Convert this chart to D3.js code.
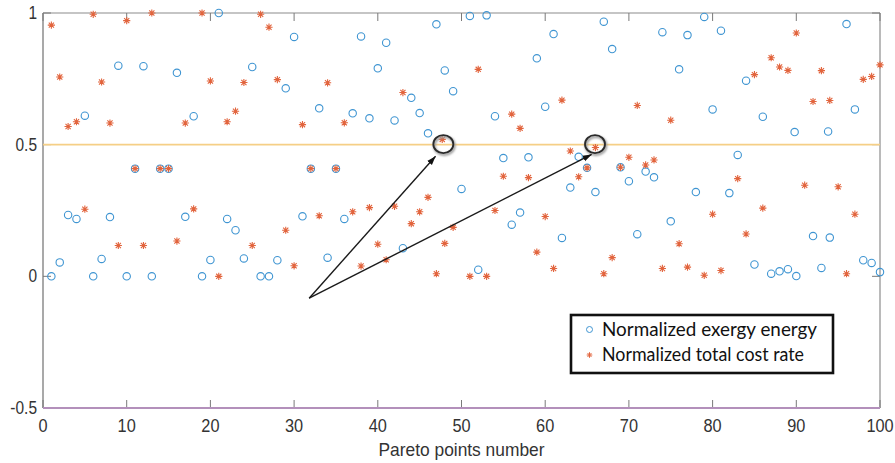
<!DOCTYPE html>
<html><head><meta charset="utf-8">
<script src="https://cdn.jsdelivr.net/npm/d3@7/dist/d3.min.js"></script>
<style>html,body{margin:0;padding:0;background:#fff;} svg{display:block;}</style>
</head><body>
<svg id="chart" width="895" height="463"></svg>
<script>
// ---------- data ----------
const pointNumbers = d3.range(1, 101);
const exergyValues = [
  0, 0.053, 0.233, 0.218, 0.61, 0, 0.066, 0.225, 0.8, 0,
  0.409, 0.798, 0, 0.409, 0.409, 0.773, 0.226, 0.608, 0, 0.062,
  1.0, 0.218, 0.175, 0.068, 0.795, 0, 0, 0.061, 0.714, 0.909,
  0.228, 0.409, 0.638, 0.071, 0.409, 0.218, 0.619, 0.911, 0.6, 0.79,
  0.887, 0.592, 0.107, 0.678, 0.62, 0.543, 0.957, 0.782, 0.703, 0.332,
  0.989, 0.025, 0.991, 0.608, 0.449, 0.196, 0.242, 0.452, 0.828, 0.644,
  0.92, 0.146, 0.337, 0.454, 0.412, 0.32, 0.967, 0.863, 0.414, 0.361,
  0.16, 0.398, 0.376, 0.927, 0.209, 0.786, 0.916, 0.32, 0.985, 0.634,
  0.933, 0.316, 0.461, 0.743, 0.045, 0.606, 0.01, 0.019, 0.027, 0.001,
  0.548, 0.153, 0.032, 0.147, 0.55, 0.958, 0.634, 0.061, 0.051, 0.016
];
// two circles sit slightly left of their index in the picture
const exergyPositions = pointNumbers.map(n => n === 91 ? 89.8 : (n === 95 ? 93.8 : n));
const costValues = [
  0.954, 0.757, 0.569, 0.587, 0.255, 0.995, 0.738, 0.582, 0.117, 0.971,
  0.409, 0.117, 1.0, 0.409, 0.409, 0.134, 0.582, 0.256, 1.0, 0.742,
  0.0, 0.587, 0.627, 0.736, 0.117, 0.995, 0.946, 0.747, 0.175, 0.04,
  0.576, 0.409, 0.23, 0.735, 0.409, 0.583, 0.245, 0.039, 0.261, 0.122,
  0.063, 0.266, 0.698, 0.2, 0.245, 0.30, 0.01, 0.125, 0.186, null,
  0.0, 0.786, 0.0, 0.25, 0.38, 0.616, 0.562, 0.375, 0.092, 0.227,
  0.03, 0.669, 0.476, 0.378, 0.412, 0.489, 0.01, 0.071, 0.414, 0.452,
  0.649, 0.423, 0.442, 0.03, 0.593, 0.124, 0.035, null, 0.004, 0.236,
  0.022, null, 0.371, 0.161, 0.766, 0.259, 0.83, 0.795, 0.782, 0.924,
  0.346, 0.664, 0.781, 0.668, 0.34, 0.01, 0.236, 0.748, 0.759, 0.803
];
const extraCostX = [47.7];
const extraCostY = [0.52];
const circledX = [47.83, 65.95];
const circledY = [0.502, 0.502];
const arrowFromX = 31.8, arrowFromY = -0.083;
const arrowToX = [46.9, 65.55];
const arrowToY = [0.456, 0.463];
const referenceLevel = 0.5;
const xTicks = [0, 10, 20, 30, 40, 50, 60, 70, 80, 90, 100];
const yTicks = [-0.5, 0, 0.5, 1];
const yTickLabels = ["-0.5", "0", "0.5", "1"];
const seriesNames = ["Normalized exergy energy", "Normalized total cost rate"];
const xTitle = "Pareto points number";

// ---------- layout ----------
const L = 43, R = 880, T = 13, B = 408;
const blue = "#3f95d2", red = "#e2643d";
const svg = d3.select("#chart");
const x = d3.scaleLinear().domain([0, 100]).range([L, R]);
const y = d3.scaleLinear().domain([-0.5, 1]).range([B, T]);

const defs = svg.append("defs");
defs.append("marker").attr("id", "ah").attr("viewBox", "0 0 10 10")
  .attr("refX", 10).attr("refY", 5).attr("markerWidth", 9).attr("markerHeight", 9)
  .attr("markerUnits", "userSpaceOnUse").attr("orient", "auto")
  .append("path").attr("d", "M0,1.5 L10,5 L0,8.5 Z").attr("fill", "#111");
const blur = defs.append("filter").attr("id", "sh").attr("x", "-50%").attr("y", "-50%").attr("width", "200%").attr("height", "200%");
blur.append("feGaussianBlur").attr("stdDeviation", 1.2);

// frame
const tickFont = "'Liberation Sans', Arial, sans-serif";
svg.append("line").attr("x1", L).attr("x2", R).attr("y1", T).attr("y2", T).attr("stroke", "#8c8c8c").attr("stroke-width", 1.2);
svg.append("line").attr("x1", L).attr("x2", L).attr("y1", T).attr("y2", B).attr("stroke", "#8c8c8c").attr("stroke-width", 1.5);
svg.append("line").attr("x1", R).attr("x2", R).attr("y1", T).attr("y2", B).attr("stroke", "#8c8c8c").attr("stroke-width", 1.2);

// x ticks
const gx = svg.append("g");
xTicks.forEach(t => {
  gx.append("line").attr("x1", x(t)).attr("x2", x(t)).attr("y1", B).attr("y2", B - 8).attr("stroke", "#7a7a7a");
  gx.append("line").attr("x1", x(t)).attr("x2", x(t)).attr("y1", T).attr("y2", T + 8).attr("stroke", "#7a7a7a");
  gx.append("text").attr("transform", `translate(${x(t)},${B + 24}) scale(0.86,1)`)
    .attr("text-anchor", "middle").attr("font-family", tickFont).attr("font-size", 19)
    .attr("fill", "#333").text(t);
});
// y ticks
const gy = svg.append("g");
yTicks.forEach((t, i) => {
  gy.append("line").attr("x1", L).attr("x2", L + 8).attr("y1", y(t)).attr("y2", y(t)).attr("stroke", "#7a7a7a");
  gy.append("line").attr("x1", R).attr("x2", R - 8).attr("y1", y(t)).attr("y2", y(t)).attr("stroke", "#7a7a7a");
  gy.append("text").attr("transform", `translate(${L - 6},${y(t) + 6}) scale(0.86,1)`)
    .attr("text-anchor", "end").attr("font-family", tickFont).attr("font-size", 18)
    .attr("fill", "#333").text(yTickLabels[i]);
});
// bottom axis line (purple tone)
svg.append("line").attr("x1", L).attr("x2", R).attr("y1", B).attr("y2", B).attr("stroke", "#b390bb").attr("stroke-width", 2);

// x title
svg.append("text").attr("x", (L + R) / 2).attr("y", 456).attr("text-anchor", "middle")
  .attr("font-family", tickFont).attr("font-size", 18.5).attr("fill", "#333")
  .attr("textLength", 166).attr("lengthAdjust", "spacingAndGlyphs").text(xTitle);

// reference line
svg.append("line").attr("x1", L).attr("x2", R).attr("y1", y(referenceLevel)).attr("y2", y(referenceLevel))
  .attr("stroke", "#f5cf86").attr("stroke-width", 1.6);

function starPath(cx, cy, s) {
  const d = s * 0.72;
  return `M${cx - s},${cy}h${2 * s}M${cx},${cy - s}v${2 * s}` +
         `M${cx - d},${cy - d}l${2 * d},${2 * d}M${cx - d},${cy + d}l${2 * d},${-2 * d}`;
}

// exergy circles
svg.append("g").selectAll("circle").data(pointNumbers).join("circle")
  .attr("cx", (d, i) => x(exergyPositions[i])).attr("cy", (d, i) => y(exergyValues[i]))
  .attr("r", 3.7).attr("fill", "none").attr("stroke", blue).attr("stroke-width", 1.1);

// cost stars
const costPts = pointNumbers.map((n, i) => ({ n, v: costValues[i] })).filter(p => p.v !== null);
svg.append("g").selectAll("path").data(costPts).join("path")
  .attr("d", p => starPath(x(p.n), y(p.v), 3.6)).attr("stroke", red).attr("stroke-width", 1.1).attr("fill", "none");
svg.append("g").selectAll("path").data(extraCostX).join("path")
  .attr("d", (d, i) => starPath(x(d), y(extraCostY[i]), 3.6)).attr("stroke", red).attr("stroke-width", 1.1).attr("fill", "none");

// annotations: circles + arrows
const ann = svg.append("g");
circledX.forEach((cx, i) => {
  ann.append("ellipse").attr("cx", x(cx) + 1).attr("cy", y(circledY[i]) + 1.5).attr("rx", 10).attr("ry", 9)
    .attr("fill", "none").attr("stroke", "#999").attr("stroke-width", 2.5).attr("filter", "url(#sh)");
  ann.append("ellipse").attr("cx", x(cx)).attr("cy", y(circledY[i])).attr("rx", 10).attr("ry", 9)
    .attr("fill", "none").attr("stroke", "#2b2b2b").attr("stroke-width", 1.8);
});
arrowToX.forEach((tx, i) => {
  ann.append("line").attr("x1", x(arrowFromX)).attr("y1", y(arrowFromY))
    .attr("x2", x(tx)).attr("y2", y(arrowToY[i]))
    .attr("stroke", "#1a1a1a").attr("stroke-width", 1.4).attr("marker-end", "url(#ah)");
});

// legend
const lg = svg.append("g");
lg.append("rect").attr("x", 571).attr("y", 315).attr("width", 262).attr("height", 58)
  .attr("fill", "#fff").attr("stroke", "#111").attr("stroke-width", 2.6);
const legFont = "Lato, 'Open Sans', sans-serif";
lg.append("circle").attr("cx", 589.5).attr("cy", 329.5).attr("r", 3).attr("fill", "none").attr("stroke", blue).attr("stroke-width", 1);
lg.append("path").attr("d", starPath(589.5, 355, 2.8)).attr("stroke", red).attr("stroke-width", 1).attr("fill", "none");
seriesNames.forEach((name, i) => {
  lg.append("text").attr("x", 602).attr("y", 336 + i * 25).attr("font-family", legFont)
    .attr("font-size", 18.5).attr("fill", "#111")
    .attr("textLength", i === 0 ? 215 : 202).attr("lengthAdjust", "spacingAndGlyphs").text(name);
});
</script>
</body></html>
